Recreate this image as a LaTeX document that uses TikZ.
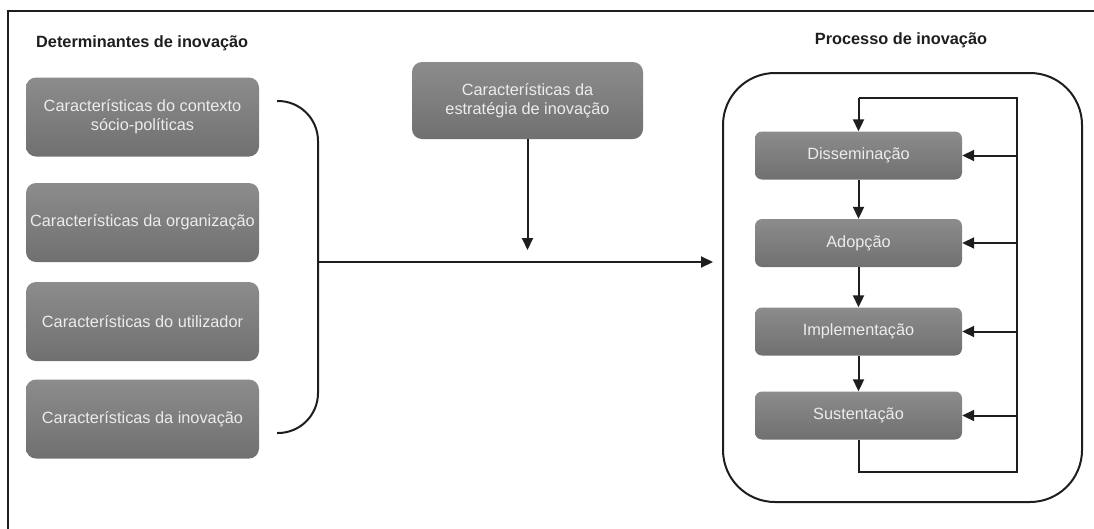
\documentclass[tikz,border=0pt]{standalone}
\usepackage{fontspec}
\setmainfont{Liberation Sans}
\usetikzlibrary{arrows.meta}
\definecolor{boxtop}{RGB}{140,140,140}
\definecolor{boxbot}{RGB}{112,112,112}
\definecolor{boxtext}{RGB}{236,236,236}
\definecolor{ink}{RGB}{30,30,30}
\begin{document}
\begin{tikzpicture}[x=1pt,y=-1pt,
  gbox/.style={rounded corners=10pt, top color=boxtop, bottom color=boxbot, draw=none,
    text=boxtext, align=center, font=\fontsize{16.3}{19}\selectfont, inner sep=0pt},
  leftbox/.style={gbox, minimum width=233pt, minimum height=79pt},
  innerbox/.style={gbox, rounded corners=7pt, minimum width=207pt, minimum height=48pt},
  title/.style={font=\fontsize{16.3}{19}\selectfont\bfseries, text=ink, inner sep=0pt},
  conn/.style={draw=ink, line width=2pt},
  arr/.style={conn, -{Triangle[length=12pt,width=11pt]}}
]
\useasboundingbox (0,0) rectangle (1094,528);
% outer frame (top and left edges)
\draw[ink, line width=1.3pt] (8,540) -- (8,11) -- (1100,11);

\node[title, anchor=west] (tl) at (36,43) {Determinantes de inovação};
\node[title] (tr) at (901,40) {Processo de inovação};

\node[leftbox] (b1) at (142.5,117) {Características do contexto\\sócio-políticas};
\node[leftbox] (b2) at (142.5,222.5) {Características da organização};
\node[leftbox] (b3) at (142.5,321.5) {Características do utilizador};
\node[leftbox] (b4) at (142.5,419) {Características da inovação};

\node[gbox, minimum width=231pt, minimum height=77pt] (mid) at (527.5,100.5) {Características da\\estratégia de inovação};

% big rounded frame
\node[draw=ink, line width=2pt, rounded corners=52pt, minimum width=359pt, minimum height=429pt, inner sep=0pt] (proc) at (902.5,287.5) {};

\node[innerbox] (d1) at (858.5,155.5) {Disseminação};
\node[innerbox] (d2) at (858.5,243) {Adopção};
\node[innerbox] (d3) at (858.5,331.5) {Implementação};
\node[innerbox] (d4) at (858.5,415.5) {Sustentação};

% bracket
\coordinate (bt) at (277,101);
\coordinate (bb) at (277,433);
\coordinate (bj) at (318,262);
\draw[conn, rounded corners=40pt] (bt) -- (318,101) -- (318,433) -- (bb);
\coordinate (tip) at (713,262);
\draw[arr] (bj) -- (tip);
\coordinate (mtip) at (527.5,250);
\draw[arr] (mid.south) -- (mtip);

% process arrows
\draw[arr] (d1.south) -- (d2.north);
\draw[arr] (d2.south) -- (d3.north);
\draw[arr] (d3.south) -- (d4.north);

\coordinate (fb) at (1017,472);
\coordinate (ft) at (1017,98);
\draw[conn] (d4.south) -- (858.5,472) -- (fb) -- (ft) -- (858.5,98);
\draw[arr] (858.5,98) -- (d1.north);
\draw[arr] (1017,155.5) -- (d1.east);
\draw[arr] (1017,243) -- (d2.east);
\draw[arr] (1017,331.5) -- (d3.east);
\draw[arr] (1017,415.5) -- (d4.east);
\end{tikzpicture}
\end{document}
